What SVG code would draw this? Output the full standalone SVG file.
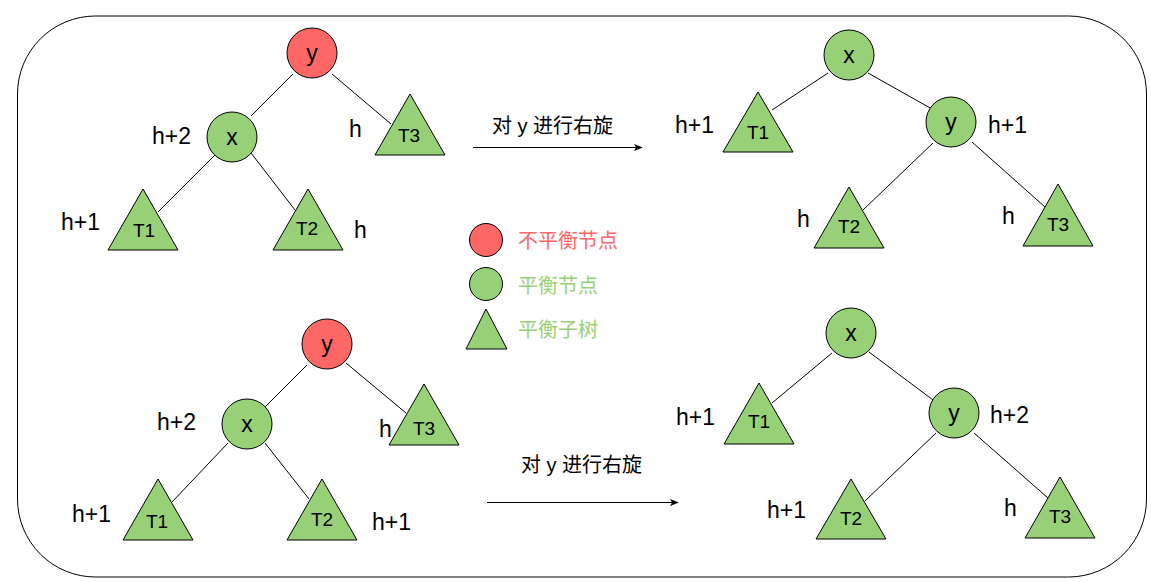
<svg xmlns="http://www.w3.org/2000/svg" width="1151" height="582" viewBox="0 0 1151 582">
<defs>
<style>
.bal{fill:#97D077;stroke:#000;stroke-width:1}
.unb{fill:#FF6666;stroke:#000;stroke-width:1}
.edge{stroke:#000;stroke-width:1;fill:none}
.lbl{font-family:"Liberation Sans",Arial,sans-serif;font-size:23px;fill:#000}
.nl{font-family:"Liberation Sans",Arial,sans-serif;font-size:23px;fill:#000;text-anchor:middle}
.tl{font-family:"Liberation Sans",Arial,sans-serif;font-size:19px;fill:#000;text-anchor:middle}
.cjk{font-family:"Liberation Sans","Noto Sans CJK SC",sans-serif;font-size:20px}
</style>
<marker id="arr" viewBox="0 0 10 10" refX="9" refY="5" markerWidth="9" markerHeight="9" markerUnits="userSpaceOnUse" orient="auto">
<path d="M0,1 L10,5 L0,9 L2.5,5 Z" fill="#000"/>
</marker>
</defs>
<rect x="17.5" y="16" width="1129" height="561" rx="78" ry="78" fill="#fff" stroke="#000" stroke-width="1"/>
<g id="connectors">
<line class="edge" x1="293" y1="74" x2="251" y2="116"/>
<line class="edge" x1="332" y1="74" x2="391" y2="124"/>
<line class="edge" x1="215" y1="155" x2="158" y2="212"/>
<line class="edge" x1="251" y1="153" x2="295" y2="210"/>
<line class="edge" x1="828" y1="73" x2="772" y2="110"/>
<line class="edge" x1="868" y1="73" x2="932" y2="109"/>
<line class="edge" x1="933" y1="143" x2="863" y2="210"/>
<line class="edge" x1="972" y1="142" x2="1045" y2="207"/>
<line class="edge" x1="307" y1="365" x2="265" y2="407"/>
<line class="edge" x1="346" y1="363" x2="406" y2="413"/>
<line class="edge" x1="228" y1="443" x2="172" y2="502"/>
<line class="edge" x1="265" y1="443" x2="309" y2="499"/>
<line class="edge" x1="832" y1="353" x2="772" y2="403"/>
<line class="edge" x1="869" y1="352" x2="933" y2="400"/>
<line class="edge" x1="936" y1="433" x2="865" y2="501"/>
<line class="edge" x1="974" y1="433" x2="1048" y2="498"/>
<line class="edge" x1="473" y1="147.5" x2="642" y2="147.5" marker-end="url(#arr)"/>
<line class="edge" x1="487" y1="502.5" x2="678" y2="502.5" marker-end="url(#arr)"/>
</g>
<g id="arrow-label-1"><text class="cjk" x="492" y="133" fill="#000">对 y 进行右旋</text></g>
<g id="arrow-label-2"><text class="cjk" x="521" y="472" fill="#000">对 y 进行右旋</text></g>
<!-- top-left tree -->
<g id="tl-y"><circle class="unb" cx="312" cy="53" r="25"/><text class="nl" x="312" y="61">y</text></g>
<g id="tl-x"><circle class="bal" cx="232" cy="137" r="25"/><text class="nl" x="232" y="145">x</text></g>
<g id="tl-T3"><polygon class="bal" points="410,94 445,155 375,155"/><text class="tl" x="409" y="142">T3</text></g>
<g id="tl-T1"><polygon class="bal" points="143,189 178,250 108,250"/><text class="tl" x="144" y="237">T1</text></g>
<g id="tl-T2"><polygon class="bal" points="308,189 343,250 273,250"/><text class="tl" x="307" y="235">T2</text></g>
<g id="tl-labels">
<text class="lbl" x="152" y="144">h+2</text>
<text class="lbl" x="349" y="137">h</text>
<text class="lbl" x="61" y="230">h+1</text>
<text class="lbl" x="354" y="238">h</text>
</g>
<!-- top-right tree -->
<g id="tr-x"><circle class="bal" cx="849" cy="55" r="25"/><text class="nl" x="849" y="63">x</text></g>
<g id="tr-y"><circle class="bal" cx="951" cy="122" r="25"/><text class="nl" x="951" y="130">y</text></g>
<g id="tr-T1"><polygon class="bal" points="758,92 793,152 723,152"/><text class="tl" x="758" y="139">T1</text></g>
<g id="tr-T2"><polygon class="bal" points="849,187 884,248 814,248"/><text class="tl" x="849" y="233">T2</text></g>
<g id="tr-T3"><polygon class="bal" points="1058,184 1093,246 1023,246"/><text class="tl" x="1058" y="231">T3</text></g>
<g id="tr-labels">
<text class="lbl" x="675" y="133">h+1</text>
<text class="lbl" x="988" y="133">h+1</text>
<text class="lbl" x="797" y="227">h</text>
<text class="lbl" x="1002" y="224">h</text>
</g>
<!-- legend -->
<g id="legend-unbalanced"><circle class="unb" cx="486" cy="240" r="16.5"/><text class="cjk" x="518" y="248" fill="#FF6666">不平衡节点</text></g>
<g id="legend-balanced"><circle class="bal" cx="486" cy="284" r="16.5"/><text class="cjk" x="518" y="293" fill="#97D077">平衡节点</text></g>
<g id="legend-subtree"><polygon class="bal" points="486,309 507,349 466,349"/><text class="cjk" x="518" y="337" fill="#97D077">平衡子树</text></g>
<!-- bottom-left tree -->
<g id="bl-y"><circle class="unb" cx="327" cy="344" r="25"/><text class="nl" x="327" y="352">y</text></g>
<g id="bl-x"><circle class="bal" cx="247" cy="424" r="25"/><text class="nl" x="247" y="432">x</text></g>
<g id="bl-T3"><polygon class="bal" points="424,384 459,445 389,445"/><text class="tl" x="424" y="435">T3</text></g>
<g id="bl-T1"><polygon class="bal" points="158,479 193,540 123,540"/><text class="tl" x="157" y="528">T1</text></g>
<g id="bl-T2"><polygon class="bal" points="322,479 357,540 287,540"/><text class="tl" x="322" y="526">T2</text></g>
<g id="bl-labels">
<text class="lbl" x="157" y="430">h+2</text>
<text class="lbl" x="379" y="437">h</text>
<text class="lbl" x="72" y="522">h+1</text>
<text class="lbl" x="372" y="530">h+1</text>
</g>
<!-- bottom-right tree -->
<g id="br-x"><circle class="bal" cx="851" cy="333" r="25"/><text class="nl" x="851" y="341">x</text></g>
<g id="br-y"><circle class="bal" cx="954" cy="413" r="25"/><text class="nl" x="954" y="421">y</text></g>
<g id="br-T1"><polygon class="bal" points="759,383 794,444 724,444"/><text class="tl" x="759" y="428">T1</text></g>
<g id="br-T2"><polygon class="bal" points="851,479 886,539 816,539"/><text class="tl" x="851" y="525">T2</text></g>
<g id="br-T3"><polygon class="bal" points="1060,477 1095,538 1025,538"/><text class="tl" x="1060" y="523">T3</text></g>
<g id="br-labels">
<text class="lbl" x="676" y="425">h+1</text>
<text class="lbl" x="990" y="423">h+2</text>
<text class="lbl" x="767" y="518">h+1</text>
<text class="lbl" x="1004" y="516">h</text>
</g>
</svg>
